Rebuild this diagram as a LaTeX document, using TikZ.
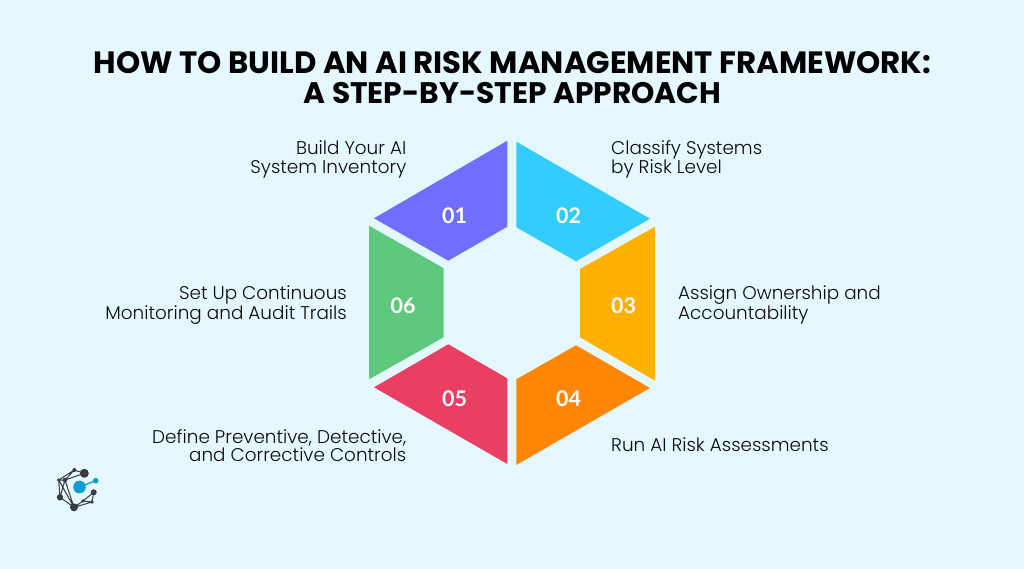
\documentclass[tikz,border=0pt]{standalone}
\usepackage{fontspec}
\setmainfont{Poppins}[UprightFont=* Light, BoldFont=* Bold]
\newfontfamily\numfont{Lato}[BoldFont=* Bold]
\definecolor{bgc}{HTML}{E5F8FF}
\definecolor{cA}{HTML}{6F6FFF}
\definecolor{cB}{HTML}{33CCFF}
\definecolor{cC}{HTML}{FFB000}
\definecolor{cD}{HTML}{FF8705}
\definecolor{cE}{HTML}{EA3E63}
\definecolor{cF}{HTML}{5EC87C}
\definecolor{ink}{HTML}{0A0A0A}
\definecolor{logoD}{HTML}{3A3A40}
\definecolor{logoB}{HTML}{0E9BD2}
\tikzset{
  ttl/.style={font=\fontsize{30.8}{30.5}\selectfont\bfseries, text=black, align=center, inner sep=0pt},
  lblR/.style={font=\fontsize{18.4}{18.5}\selectfont, text=ink, align=left, anchor=west, inner sep=0pt},
  lblL/.style={font=\fontsize{18.4}{18.5}\selectfont, text=ink, align=right, anchor=east, inner sep=0pt},
  num/.style={font=\numfont\fontsize{21.5}{22}\selectfont\bfseries, text=white, inner sep=0pt},
  dk/.style={fill=logoD, draw=none},
  lk/.style={draw=logoD, line width=1pt},
}
\begin{document}
\begin{tikzpicture}[x=1pt,y=-1pt]
\useasboundingbox (0,0) rectangle (1024,569);
\fill[bgc] (0,0) rectangle (1024,569);
\node[ttl] (title) at (512.5,77.5) {HOW TO BUILD AN AI RISK MANAGEMENT FRAMEWORK:\\{\fontsize{29.7}{30.5}\selectfont\bfseries A STEP-BY-STEP APPROACH}};
\fill[cA] (507.3,140.7) -- (507.3,226.7) -- (448.3,260.7) -- (374,218.3) -- cycle;
\fill[cB] (516.3,141.7) -- (650,218.7) -- (576,261.3) -- (516.3,227.3) -- cycle;
\fill[cC] (655,226.7) -- (655,380.7) -- (580,337.3) -- (580,269) -- cycle;
\fill[cD] (516.3,465) -- (516.3,379.3) -- (576,345.3) -- (650,388) -- cycle;
\fill[cE] (507.3,464) -- (374,387.3) -- (448.3,344.3) -- (507.3,378.3) -- cycle;
\fill[cF] (369,225.7) -- (443.7,268.3) -- (443.7,337.3) -- (369,379.3) -- cycle;
\node[num] (n1) at (454.5,216) {01};
\node[num] (n2) at (568.5,215.5) {02};
\node[num] (n3) at (623.5,305.5) {03};
\node[num] (n4) at (568.5,398.5) {04};
\node[num] (n5) at (454.5,398.5) {05};
\node[num] (n6) at (403,305.5) {06};
\node[lblL] (t1) at (406.5,159.5) {Build Your AI\\System Inventory};
\node[lblR] (t2) at (611,159.5) {Classify Systems\\by Risk Level};
\node[lblR] (t3) at (678,305) {Assign Ownership and\\Accountability};
\node[lblR] (t4) at (611,445) {Run AI Risk Assessments};
\node[lblL] (t5) at (406.5,445.5) {Define Preventive, Detective,\\and Corrective Controls};
\node[lblL] (t6) at (347,305) {Set Up Continuous\\Monitoring and Audit Trails};
% logo
\coordinate (a) at (84.3,473.3);
\coordinate (b) at (74.3,470);
\coordinate (c) at (65,480);
\coordinate (d) at (58.7,480);
\coordinate (e) at (60,497.3);
\coordinate (f) at (74,507.3);
\coordinate (g) at (93.7,492.3);
\coordinate (h) at (92,502);
\coordinate (i) at (83,501);
\coordinate (j) at (79.5,487);
\coordinate (k) at (95.7,480.7);
\draw[lk] (a)--(b)--(c)--(d)--(e)--(f)--(h)--(g)--(i)--(f) (a)--(c) (c)--(e) (d)--(f) (c)--(f) (b)--(d) (i)--(h);
\draw[logoB,line width=1.3pt] (j)--(k);
\fill[dk] (a) circle (4.5);
\fill[dk] (b) circle (2);
\fill[dk] (c) circle (2.3);
\fill[dk] (d) circle (1.8);
\fill[dk] (e) circle (3.2);
\fill[dk] (f) circle (4);
\fill[dk] (g) circle (3);
\fill[dk] (h) circle (1.8);
\fill[dk] (i) circle (1.8);
\fill[logoB] (j) circle (6.3);
\fill[logoB] (k) circle (2.8);
\end{tikzpicture}
\end{document}
